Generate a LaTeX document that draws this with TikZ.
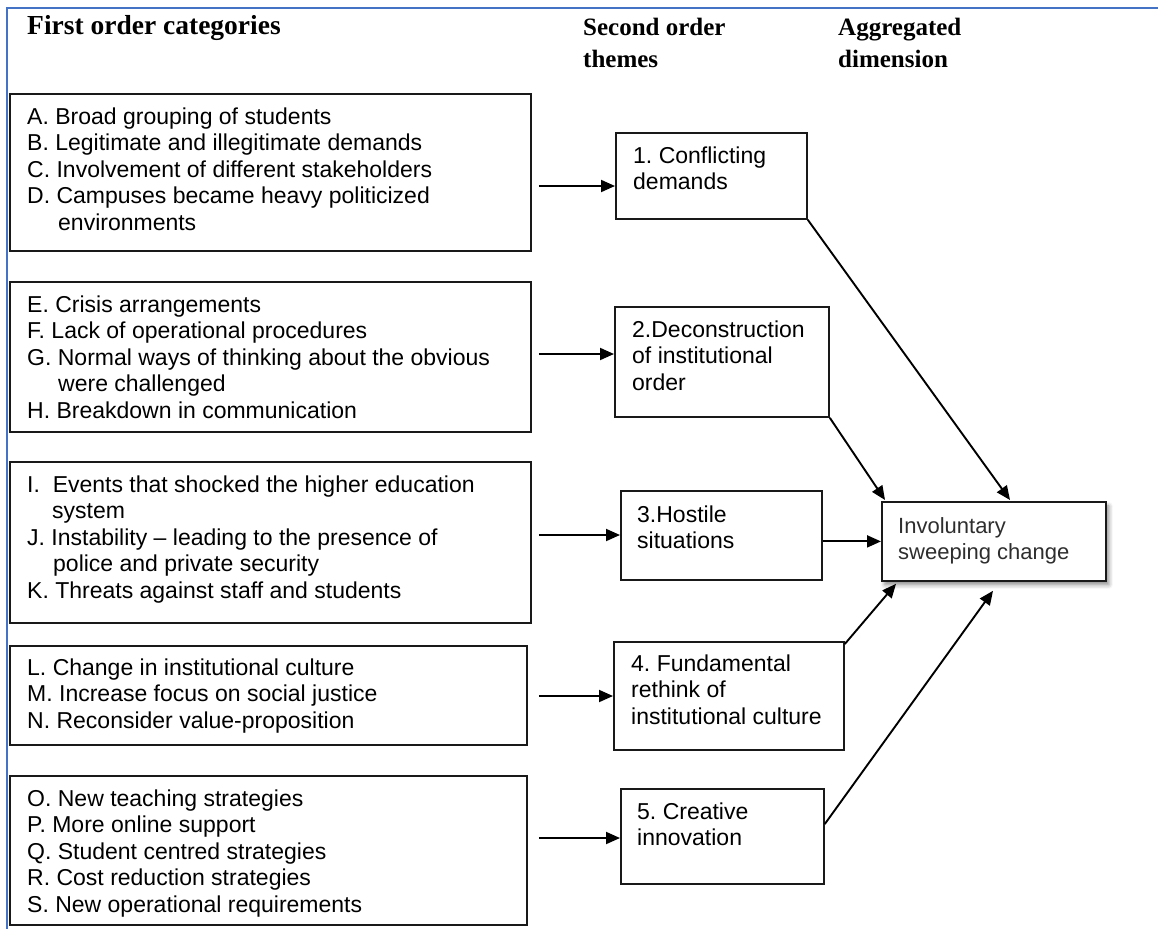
\documentclass[tikz,border=0pt]{standalone}
\usepackage{fontspec}
\setmainfont{Liberation Serif}
\setsansfont{Liberation Sans}
\usetikzlibrary{arrows.meta,shadows.blur,calc}
\definecolor{frameblue}{HTML}{4472C4}
\frenchspacing

\begin{document}
\begin{tikzpicture}[x=1pt,y=-1pt,
  box/.style={draw=black!90, line width=1.8pt, anchor=north west, inner sep=0pt, fill=white},
  txt/.style={anchor=north west, inner sep=0pt, align=left,
    font=\sffamily\fontsize{23}{26.5}\selectfont},
  head/.style={anchor=north west, inner sep=0pt, align=left,
    font=\rmfamily\bfseries\fontsize{25}{32}\selectfont},
  arr/.style={line width=1.9pt, -{Triangle[length=14pt,width=12pt]}},
]
\useasboundingbox (0,0) rectangle (1158,929);

% page frame
\draw[frameblue, line width=1.8pt] (1158,8) -- (7,8) -- (7,929);

% column headings
\node[head, font=\rmfamily\bfseries\fontsize{27.5}{32}\selectfont] (h1) at (27,12) {\rule{0pt}{22pt}First order categories};
\node[head] (h2) at (583,13) {\rule{0pt}{22pt}Second order\\themes};
\node[head] (h3) at (838,13) {\rule{0pt}{22pt}Aggregated\\dimension};

% first order categories
\node[box, minimum width=521pt, minimum height=157pt] (cA) at (9,93) {};
\node[txt] (cAt) at ($(cA.north west)+(18,11)$) {\rule{0pt}{20pt}A. Broad grouping of students\\
B. Legitimate and illegitimate demands\\
C. Involvement of different stakeholders\\
D. Campuses became heavy politicized\\
\hspace*{31pt}environments};

\node[box, minimum width=521pt, minimum height=150pt] (cE) at (9,281) {};
\node[txt] (cEt) at ($(cE.north west)+(18,11)$) {\rule{0pt}{20pt}E. Crisis arrangements\\
F. Lack of operational procedures\\
G. Normal ways of thinking about the obvious\\
\hspace*{31pt}were challenged\\
H. Breakdown in communication};

\node[box, minimum width=521pt, minimum height=161pt] (cI) at (9,461) {};
\node[txt] (cIt) at ($(cI.north west)+(18,11)$) {\rule{0pt}{20pt}I.\ \ Events that shocked the higher education\\
\hspace*{25pt}system\\
J. Instability -- leading to the presence of\\
\hspace*{26pt}police and private security\\
K. Threats against staff and students};

\node[box, minimum width=517pt, minimum height=99pt] (cL) at (9,645) {};
\node[txt] (cLt) at ($(cL.north west)+(18,10)$) {\rule{0pt}{20pt}L. Change in institutional culture\\
M. Increase focus on social justice\\
N. Reconsider value-proposition};

\node[box, minimum width=517pt, minimum height=149pt] (cO) at (9,775) {};
\node[txt] (cOt) at ($(cO.north west)+(18,11)$) {\rule{0pt}{20pt}O. New teaching strategies\\
P. More online support\\
Q. Student centred strategies\\
R. Cost reduction strategies\\
S. New operational requirements};

% second order themes
\node[box, minimum width=191pt, minimum height=86pt] (t1) at (615,132) {};
\node[txt] (t1t) at ($(t1.north west)+(18,11)$) {\rule{0pt}{20pt}1. Conflicting\\demands};

\node[box, minimum width=214pt, minimum height=110pt] (t2) at (614,306) {};
\node[txt] (t2t) at ($(t2.north west)+(18,11)$) {\rule{0pt}{20pt}2.Deconstruction\\of institutional\\order};

\node[box, minimum width=201pt, minimum height=89pt] (t3) at (620,490) {};
\node[txt] (t3t) at ($(t3.north west)+(17,12)$) {\rule{0pt}{20pt}3.Hostile\\situations};

\node[box, minimum width=230pt, minimum height=108pt] (t4) at (613,641) {};
\node[txt] (t4t) at ($(t4.north west)+(18,10)$) {\rule{0pt}{20pt}4. Fundamental\\rethink of\\institutional culture};

\node[box, minimum width=203pt, minimum height=95pt] (t5) at (620,788) {};
\node[txt] (t5t) at ($(t5.north west)+(17,11)$) {\rule{0pt}{20pt}5. Creative\\innovation};

% aggregated dimension
\node[box, minimum width=224pt, minimum height=79pt,
  blur shadow={shadow xshift=3pt, shadow yshift=-4pt, shadow blur radius=4pt, shadow opacity=45}]
  (inv) at (881,501) {};
\node[txt, text=black!82, font=\sffamily\fontsize{22}{26.5}\selectfont] (invt)
  at ($(inv.north west)+(17,12)$) {\rule{0pt}{20pt}Involuntary\\sweeping change};

% rows of the horizontal connectors
\coordinate (r1) at (0,186);
\coordinate (r2) at (0,354);
\coordinate (r3) at (0,535);
\coordinate (r4) at (0,696);
\coordinate (r5) at (0,838);

\draw[arr] ($(cA.east |- r1)+(7,0)$) -- (t1.west |- r1);
\draw[arr] ($(cE.east |- r2)+(7,0)$) -- (t2.west |- r2);
\draw[arr] ($(cI.east |- r3)+(7,0)$) -- (t3.west |- r3);
\draw[arr] ($(cL.east |- r4)+(11,0)$) -- (t4.west |- r4);
\draw[arr] ($(cO.east |- r5)+(11,0)$) -- (t5.west |- r5);

% links into the aggregated dimension
\draw[arr] (t1.south east) -- ($(inv.north west)+(129,-1)$);
\draw[arr] (t2.south east) -- ($(inv.north west)+(4,-1)$);
\draw[arr] (t3.east |- inv.west) -- (inv.west);
\draw[arr] ($(t4.north east)+(0,3)$) -- ($(inv.south west)+(15,2)$);
\draw[arr] ($(t5.north east)+(0,36)$) -- ($(inv.south west)+(112,9)$);
\end{tikzpicture}
\end{document}
